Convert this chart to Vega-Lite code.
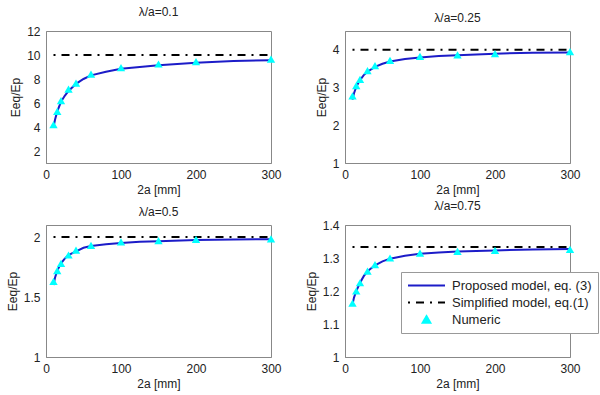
{
  "$schema": "https://vega.github.io/schema/vega-lite/v6.json",
  "padding": {"left": 5, "top": 5, "right": 5, "bottom": 5},
  "bounds": "flush",
  "columns": 2,
  "spacing": {"row": 62, "column": 74},
  "config": {
    "font": "Liberation Sans",
    "view": {"stroke": "#888", "strokeWidth": 1},
    "axis": {"grid": false, "ticks": false, "domainColor": "#888", "labelFontSize": 12, "labelColor": "#222", "titleFontSize": 12, "titleFontWeight": "normal", "titleColor": "#222", "labelPadding": 6, "titlePadding": 4, "labelFlush": false},
    "axisY": {"format": "~r"},
    "title": {"fontSize": 12, "fontWeight": "normal", "color": "#222", "offset": 6}
  },
  "datasets": {
    "d": [
      {"p": 1, "k": "Proposed model, eq. (3)", "x": 10, "y": 4.0},
      {"p": 1, "k": "Proposed model, eq. (3)", "x": 12, "y": 4.6},
      {"p": 1, "k": "Proposed model, eq. (3)", "x": 15, "y": 5.3},
      {"p": 1, "k": "Proposed model, eq. (3)", "x": 20, "y": 6.1},
      {"p": 1, "k": "Proposed model, eq. (3)", "x": 25, "y": 6.6},
      {"p": 1, "k": "Proposed model, eq. (3)", "x": 30, "y": 7.0},
      {"p": 1, "k": "Proposed model, eq. (3)", "x": 40, "y": 7.6},
      {"p": 1, "k": "Proposed model, eq. (3)", "x": 50, "y": 8.0},
      {"p": 1, "k": "Proposed model, eq. (3)", "x": 60, "y": 8.3},
      {"p": 1, "k": "Proposed model, eq. (3)", "x": 80, "y": 8.6},
      {"p": 1, "k": "Proposed model, eq. (3)", "x": 100, "y": 8.85},
      {"p": 1, "k": "Proposed model, eq. (3)", "x": 125, "y": 9.0},
      {"p": 1, "k": "Proposed model, eq. (3)", "x": 150, "y": 9.15},
      {"p": 1, "k": "Proposed model, eq. (3)", "x": 200, "y": 9.35},
      {"p": 1, "k": "Proposed model, eq. (3)", "x": 250, "y": 9.5},
      {"p": 1, "k": "Proposed model, eq. (3)", "x": 300, "y": 9.57},
      {"p": 1, "k": "Simplified model, eq.(1)", "x": 10, "y": 10},
      {"p": 1, "k": "Simplified model, eq.(1)", "x": 300, "y": 10},
      {"p": 1, "k": "Numeric", "x": 10, "y": 4.2},
      {"p": 1, "k": "Numeric", "x": 15, "y": 5.3},
      {"p": 1, "k": "Numeric", "x": 20, "y": 6.2},
      {"p": 1, "k": "Numeric", "x": 30, "y": 7.15},
      {"p": 1, "k": "Numeric", "x": 40, "y": 7.65},
      {"p": 1, "k": "Numeric", "x": 60, "y": 8.4},
      {"p": 1, "k": "Numeric", "x": 100, "y": 8.95},
      {"p": 1, "k": "Numeric", "x": 150, "y": 9.25},
      {"p": 1, "k": "Numeric", "x": 200, "y": 9.45},
      {"p": 1, "k": "Numeric", "x": 300, "y": 9.65},

      {"p": 2, "k": "Proposed model, eq. (3)", "x": 10, "y": 2.68},
      {"p": 2, "k": "Proposed model, eq. (3)", "x": 12, "y": 2.85},
      {"p": 2, "k": "Proposed model, eq. (3)", "x": 15, "y": 3.02},
      {"p": 2, "k": "Proposed model, eq. (3)", "x": 20, "y": 3.2},
      {"p": 2, "k": "Proposed model, eq. (3)", "x": 25, "y": 3.33},
      {"p": 2, "k": "Proposed model, eq. (3)", "x": 30, "y": 3.42},
      {"p": 2, "k": "Proposed model, eq. (3)", "x": 40, "y": 3.55},
      {"p": 2, "k": "Proposed model, eq. (3)", "x": 50, "y": 3.63},
      {"p": 2, "k": "Proposed model, eq. (3)", "x": 60, "y": 3.69},
      {"p": 2, "k": "Proposed model, eq. (3)", "x": 80, "y": 3.76},
      {"p": 2, "k": "Proposed model, eq. (3)", "x": 100, "y": 3.8},
      {"p": 2, "k": "Proposed model, eq. (3)", "x": 125, "y": 3.84},
      {"p": 2, "k": "Proposed model, eq. (3)", "x": 150, "y": 3.86},
      {"p": 2, "k": "Proposed model, eq. (3)", "x": 200, "y": 3.9},
      {"p": 2, "k": "Proposed model, eq. (3)", "x": 250, "y": 3.92},
      {"p": 2, "k": "Proposed model, eq. (3)", "x": 300, "y": 3.93},
      {"p": 2, "k": "Simplified model, eq.(1)", "x": 10, "y": 4},
      {"p": 2, "k": "Simplified model, eq.(1)", "x": 300, "y": 4},
      {"p": 2, "k": "Numeric", "x": 10, "y": 2.78},
      {"p": 2, "k": "Numeric", "x": 15, "y": 3.05},
      {"p": 2, "k": "Numeric", "x": 20, "y": 3.22},
      {"p": 2, "k": "Numeric", "x": 30, "y": 3.45},
      {"p": 2, "k": "Numeric", "x": 40, "y": 3.58},
      {"p": 2, "k": "Numeric", "x": 60, "y": 3.72},
      {"p": 2, "k": "Numeric", "x": 100, "y": 3.83},
      {"p": 2, "k": "Numeric", "x": 150, "y": 3.87},
      {"p": 2, "k": "Numeric", "x": 200, "y": 3.9},
      {"p": 2, "k": "Numeric", "x": 300, "y": 3.95},

      {"p": 3, "k": "Proposed model, eq. (3)", "x": 10, "y": 1.6},
      {"p": 3, "k": "Proposed model, eq. (3)", "x": 12, "y": 1.66},
      {"p": 3, "k": "Proposed model, eq. (3)", "x": 15, "y": 1.72},
      {"p": 3, "k": "Proposed model, eq. (3)", "x": 20, "y": 1.78},
      {"p": 3, "k": "Proposed model, eq. (3)", "x": 25, "y": 1.82},
      {"p": 3, "k": "Proposed model, eq. (3)", "x": 30, "y": 1.85},
      {"p": 3, "k": "Proposed model, eq. (3)", "x": 40, "y": 1.88},
      {"p": 3, "k": "Proposed model, eq. (3)", "x": 50, "y": 1.91},
      {"p": 3, "k": "Proposed model, eq. (3)", "x": 60, "y": 1.925},
      {"p": 3, "k": "Proposed model, eq. (3)", "x": 80, "y": 1.94},
      {"p": 3, "k": "Proposed model, eq. (3)", "x": 100, "y": 1.95},
      {"p": 3, "k": "Proposed model, eq. (3)", "x": 125, "y": 1.96},
      {"p": 3, "k": "Proposed model, eq. (3)", "x": 150, "y": 1.965},
      {"p": 3, "k": "Proposed model, eq. (3)", "x": 200, "y": 1.975},
      {"p": 3, "k": "Proposed model, eq. (3)", "x": 250, "y": 1.98},
      {"p": 3, "k": "Proposed model, eq. (3)", "x": 300, "y": 1.982},
      {"p": 3, "k": "Simplified model, eq.(1)", "x": 10, "y": 2},
      {"p": 3, "k": "Simplified model, eq.(1)", "x": 300, "y": 2},
      {"p": 3, "k": "Numeric", "x": 10, "y": 1.63},
      {"p": 3, "k": "Numeric", "x": 15, "y": 1.72},
      {"p": 3, "k": "Numeric", "x": 20, "y": 1.78},
      {"p": 3, "k": "Numeric", "x": 30, "y": 1.85},
      {"p": 3, "k": "Numeric", "x": 40, "y": 1.89},
      {"p": 3, "k": "Numeric", "x": 60, "y": 1.93},
      {"p": 3, "k": "Numeric", "x": 100, "y": 1.96},
      {"p": 3, "k": "Numeric", "x": 150, "y": 1.97},
      {"p": 3, "k": "Numeric", "x": 200, "y": 1.98},
      {"p": 3, "k": "Numeric", "x": 300, "y": 1.985},

      {"p": 4, "k": "Proposed model, eq. (3)", "x": 10, "y": 1.16},
      {"p": 4, "k": "Proposed model, eq. (3)", "x": 12, "y": 1.18},
      {"p": 4, "k": "Proposed model, eq. (3)", "x": 15, "y": 1.2},
      {"p": 4, "k": "Proposed model, eq. (3)", "x": 20, "y": 1.225},
      {"p": 4, "k": "Proposed model, eq. (3)", "x": 25, "y": 1.245},
      {"p": 4, "k": "Proposed model, eq. (3)", "x": 30, "y": 1.26},
      {"p": 4, "k": "Proposed model, eq. (3)", "x": 40, "y": 1.278},
      {"p": 4, "k": "Proposed model, eq. (3)", "x": 50, "y": 1.29},
      {"p": 4, "k": "Proposed model, eq. (3)", "x": 60, "y": 1.298},
      {"p": 4, "k": "Proposed model, eq. (3)", "x": 80, "y": 1.307},
      {"p": 4, "k": "Proposed model, eq. (3)", "x": 100, "y": 1.313},
      {"p": 4, "k": "Proposed model, eq. (3)", "x": 125, "y": 1.317},
      {"p": 4, "k": "Proposed model, eq. (3)", "x": 150, "y": 1.32},
      {"p": 4, "k": "Proposed model, eq. (3)", "x": 200, "y": 1.323},
      {"p": 4, "k": "Proposed model, eq. (3)", "x": 250, "y": 1.326},
      {"p": 4, "k": "Proposed model, eq. (3)", "x": 300, "y": 1.327},
      {"p": 4, "k": "Simplified model, eq.(1)", "x": 10, "y": 1.3333},
      {"p": 4, "k": "Simplified model, eq.(1)", "x": 300, "y": 1.3333},
      {"p": 4, "k": "Numeric", "x": 10, "y": 1.163},
      {"p": 4, "k": "Numeric", "x": 15, "y": 1.2},
      {"p": 4, "k": "Numeric", "x": 20, "y": 1.225},
      {"p": 4, "k": "Numeric", "x": 30, "y": 1.26},
      {"p": 4, "k": "Numeric", "x": 40, "y": 1.28},
      {"p": 4, "k": "Numeric", "x": 60, "y": 1.3},
      {"p": 4, "k": "Numeric", "x": 100, "y": 1.315},
      {"p": 4, "k": "Numeric", "x": 150, "y": 1.32},
      {"p": 4, "k": "Numeric", "x": 200, "y": 1.323},
      {"p": 4, "k": "Numeric", "x": 300, "y": 1.326}
    ]
  },
  "resolve": {"scale": {"color": "independent"}, "legend": {"color": "independent"}},
  "concat": [
    {
      "title": "λ/a=0.1",
      "width": 225, "height": 132,
      "data": {"name": "d"},
      "transform": [{"filter": "datum.p == 1"}],
      "encoding": {
        "x": {"field": "x", "type": "quantitative", "title": "2a [mm]", "scale": {"domain": [0, 300], "nice": false}, "axis": {"values": [0, 100, 200, 300]}},
        "y": {"field": "y", "type": "quantitative", "title": "Eeq/Ep", "scale": {"domain": [1, 12], "nice": false}, "axis": {"values": [2, 4, 6, 8, 10, 12]}}
      },
      "layer": [
        {"transform": [{"filter": "datum.k == 'Simplified model, eq.(1)'"}], "mark": {"type": "line", "color": "#000", "strokeWidth": 2, "strokeDash": [2, 6, 8, 6]}},
        {"transform": [{"filter": "datum.k == 'Proposed model, eq. (3)'"}], "mark": {"type": "line", "color": "#1c1cc8", "strokeWidth": 2}},
        {"transform": [{"filter": "datum.k == 'Numeric'"}], "mark": {"type": "point", "shape": "triangle-up", "filled": true, "color": "#00ffff", "opacity": 1, "size": 70}}
      ]
    },
    {
      "title": "λ/a=0.25",
      "width": 225, "height": 132,
      "data": {"name": "d"},
      "transform": [{"filter": "datum.p == 2"}],
      "encoding": {
        "x": {"field": "x", "type": "quantitative", "title": "2a [mm]", "scale": {"domain": [0, 300], "nice": false}, "axis": {"values": [0, 100, 200, 300]}},
        "y": {"field": "y", "type": "quantitative", "title": "Eeq/Ep", "scale": {"domain": [1, 4.5], "nice": false}, "axis": {"values": [1, 2, 3, 4]}}
      },
      "layer": [
        {"transform": [{"filter": "datum.k == 'Simplified model, eq.(1)'"}], "mark": {"type": "line", "color": "#000", "strokeWidth": 2, "strokeDash": [2, 6, 8, 6]}},
        {"transform": [{"filter": "datum.k == 'Proposed model, eq. (3)'"}], "mark": {"type": "line", "color": "#1c1cc8", "strokeWidth": 2}},
        {"transform": [{"filter": "datum.k == 'Numeric'"}], "mark": {"type": "point", "shape": "triangle-up", "filled": true, "color": "#00ffff", "opacity": 1, "size": 70}}
      ]
    },
    {
      "title": "λ/a=0.5",
      "width": 225, "height": 132,
      "data": {"name": "d"},
      "transform": [{"filter": "datum.p == 3"}],
      "encoding": {
        "x": {"field": "x", "type": "quantitative", "title": "2a [mm]", "scale": {"domain": [0, 300], "nice": false}, "axis": {"values": [0, 100, 200, 300]}},
        "y": {"field": "y", "type": "quantitative", "title": "Eeq/Ep", "scale": {"domain": [1, 2.1], "nice": false}, "axis": {"values": [1, 1.5, 2]}}
      },
      "layer": [
        {"transform": [{"filter": "datum.k == 'Simplified model, eq.(1)'"}], "mark": {"type": "line", "color": "#000", "strokeWidth": 2, "strokeDash": [2, 6, 8, 6]}},
        {"transform": [{"filter": "datum.k == 'Proposed model, eq. (3)'"}], "mark": {"type": "line", "color": "#1c1cc8", "strokeWidth": 2}},
        {"transform": [{"filter": "datum.k == 'Numeric'"}], "mark": {"type": "point", "shape": "triangle-up", "filled": true, "color": "#00ffff", "opacity": 1, "size": 70}}
      ]
    },
    {
      "title": "λ/a=0.75",
      "width": 225, "height": 132,
      "data": {"name": "d"},
      "transform": [{"filter": "datum.p == 4"}],
      "encoding": {
        "x": {"field": "x", "type": "quantitative", "title": "2a [mm]", "scale": {"domain": [0, 300], "nice": false}, "axis": {"values": [0, 100, 200, 300]}},
        "y": {"field": "y", "type": "quantitative", "title": "Eeq/Ep", "scale": {"domain": [1, 1.4], "nice": false}, "axis": {"values": [1, 1.1, 1.2, 1.3, 1.4]}},
        "color": {
          "field": "k", "type": "nominal",
          "scale": {"domain": ["Proposed model, eq. (3)", "Simplified model, eq.(1)", "Numeric"], "range": ["#1c1cc8", "#000000", "#00ffff"]},
          "legend": {
            "title": null, "orient": "none", "legendX": 56, "legendY": 47,
            "fillColor": "white", "strokeColor": "#999", "padding": 6,
            "labelFontSize": 13, "labelColor": "#222", "labelOffset": 6, "rowPadding": 2,
            "symbolSize": 1369, "symbolType": "stroke", "symbolStrokeWidth": 2, "clipHeight": 15,
            "encode": {"symbols": {"update": {
              "shape": {"signal": "datum.value === 'Numeric' ? 'triangle-up' : 'stroke'"},
              "size": {"signal": "datum.value === 'Numeric' ? 60 : 1369"},
              "strokeDash": {"signal": "datum.value === 'Simplified model, eq.(1)' ? [2, 6, 8, 6] : [1, 0]"},
              "strokeWidth": {"value": 2},
              "fill": {"signal": "datum.value === 'Numeric' ? '#00ffff' : 'transparent'"},
              "stroke": {"signal": "datum.value === 'Proposed model, eq. (3)' ? '#1c1cc8' : (datum.value === 'Numeric' ? 'transparent' : '#000000')"},
              "opacity": {"value": 1}
            }}}
          }
        }
      },
      "layer": [
        {"transform": [{"filter": "datum.k == 'Simplified model, eq.(1)'"}], "mark": {"type": "line", "strokeWidth": 2, "strokeDash": [2, 6, 8, 6]}},
        {"transform": [{"filter": "datum.k == 'Proposed model, eq. (3)'"}], "mark": {"type": "line", "strokeWidth": 2}},
        {"transform": [{"filter": "datum.k == 'Numeric'"}], "mark": {"type": "point", "shape": "triangle-up", "filled": true, "opacity": 1, "size": 70}}
      ]
    }
  ]
}
